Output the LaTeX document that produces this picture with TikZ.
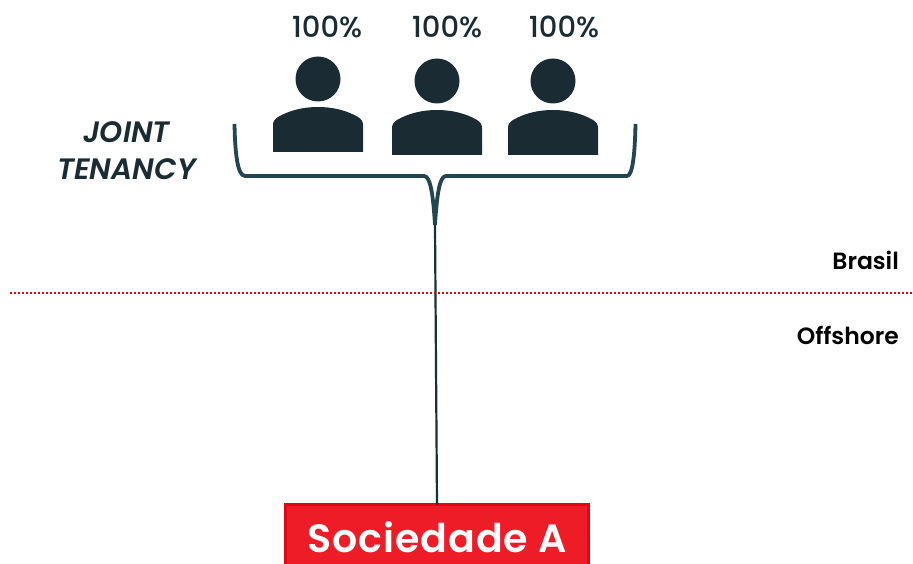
\documentclass[tikz,border=0pt]{standalone}
\usepackage{fontspec}
\setmainfont{Poppins}
\newfontfamily\pmed{Poppins Medium}
\newfontfamily\psemi{Poppins SemiBold}
\newfontfamily\pbox[LetterSpace=2.5]{Poppins SemiBold}
\definecolor{ink}{HTML}{1B2B33}
\definecolor{brace}{HTML}{234550}
\definecolor{redfill}{HTML}{EE1C27}
\definecolor{redline}{HTML}{E30613}
\tikzset{
  x=1pt,y=-1pt,
  pct/.style={font=\fontsize{29}{30}\pmed\selectfont,text=ink,inner sep=0pt,anchor=center},
  side/.style={font=\fontsize{23.5}{26}\psemi\selectfont,text=black,inner sep=0pt},
  personshape/.style={fill=ink,draw=none},
  bracket/.style={draw=brace,line width=3.8pt,line join=round},
}
\newcommand{\personicon}[3]{%
  \fill[personshape] (#1,#2) circle[radius=22.5];
  \fill[personshape] (#1-45,#3+45) -- (#1-45,#3+18) .. controls (#1-45,#3+14) and (#1-43,#3+12) .. (#1-40,#3+10)
    .. controls (#1-28,#3+3) and (#1-14,#3) .. (#1,#3) .. controls (#1+14,#3) and (#1+28,#3+3) .. (#1+40,#3+10)
    .. controls (#1+43,#3+12) and (#1+45,#3+14) .. (#1+45,#3+18) -- (#1+45,#3+45) -- cycle;
}
\begin{document}
\begin{tikzpicture}
\useasboundingbox (0,0) rectangle (913,564);
\fill[white] (0,0) rectangle (913,564);
\node[pct] (p1) at (327,27) {100\%};
\node[pct] (p2) at (447,27) {100\%};
\node[pct] (p3) at (564,27) {100\%};
\personicon{318}{79}{107}
\personicon{437}{81}{110}
\personicon{553}{81}{110}
\node[font=\fontsize{29.5}{37}\psemi\selectfont\itshape,text=ink,align=center,inner sep=0pt] (jt) at (126.5,151) {JOINT\\TENANCY};
\coordinate (tip) at (435,225);
\coordinate (bl) at (234.5,124);
\coordinate (br) at (635.5,124);
\draw[bracket] (bl) .. controls (235,150) and (237,176) .. (245,176) -- (424,176)
  .. controls (430,176) and (433,192) .. (tip);
\draw[bracket] (br) .. controls (635,150) and (633,176) .. (627,176) -- (446,176)
  .. controls (440,176) and (437,192) .. (tip);
\node[fill=redfill,draw=redline,line width=3pt,minimum width=303pt,minimum height=62pt,inner sep=0pt,outer sep=0pt,anchor=north west] (soc) at (285.5,504.5) {};
\node[text=white,font=\fontsize{39.5}{42}\pbox\selectfont,inner sep=0pt] (soct) at (437,537) {Sociedade A};
\draw[brace!70!black,line width=2.2pt] (tip) -- (soc.north);
\draw[redline,line width=1.8pt,dash pattern=on 1.8pt off 2.2pt] (10,293) coordinate (d1) -- (913,293) coordinate (d2);
\node[side,anchor=east] (br1) at (899,260) {Brasil};
\node[side,anchor=east] (of) at (899,335) {Offshore};
\end{tikzpicture}
\end{document}
